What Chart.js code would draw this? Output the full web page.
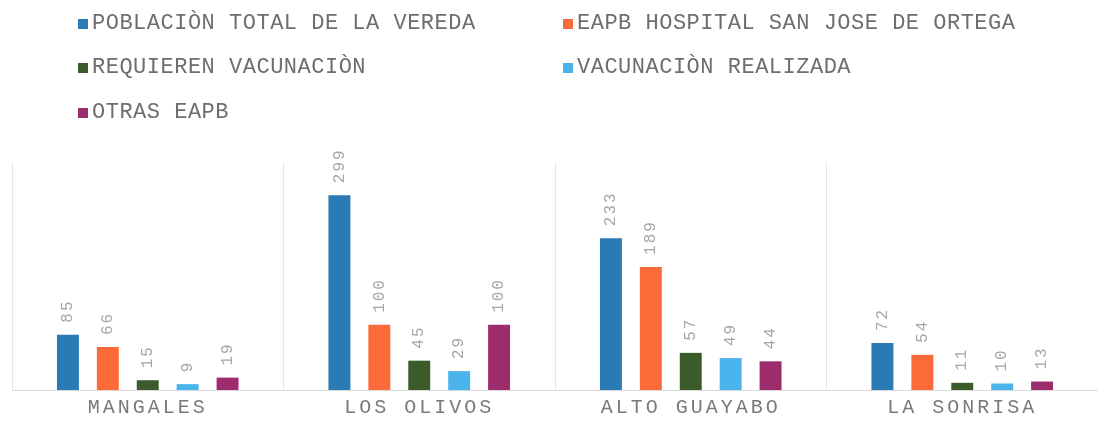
<!DOCTYPE html>
<html>
<head>
<meta charset="utf-8">
<script src="https://cdn.jsdelivr.net/npm/chart.js@4.4.1/dist/chart.umd.min.js"></script>
<style>
  body { margin: 0; background: #fff; }
  #wrap { position: relative; width: 1098px; height: 425px; }
  #legend { position: absolute; left: 0; top: 0; width: 1098px; height: 150px; }
  .item {
    position: absolute; display: flex; align-items: center;
    font: 22px "Liberation Mono", monospace; letter-spacing: 0.5px; color: #6e6e6e;
    white-space: nowrap;
  }
  .box { width: 10px; height: 10px; margin-right: 4px; }
</style>
</head>
<body>
<div id="wrap">
  <canvas id="myBarChart" width="1098" height="425"></canvas>
  <div id="legend"></div>
</div>
<script>
// data
const veredas = ['MANGALES', 'LOS OLIVOS', 'ALTO GUAYABO', 'LA SONRISA'];
const seriesNames = [
    'POBLACIÒN TOTAL DE LA VEREDA',
    'EAPB HOSPITAL SAN JOSE DE ORTEGA',
    'REQUIEREN VACUNACIÒN',
    'VACUNACIÒN REALIZADA',
    'OTRAS EAPB'
];
const poblacionTotal = [85, 299, 233, 72];
const eapbHospital = [66, 100, 189, 54];
const requierenVacunacion = [15, 45, 57, 11];
const vacunacionRealizada = [9, 29, 49, 10];
const otrasEapb = [19, 100, 44, 13];
const seriesColors = ['#2a7ab5', '#fd6a3a', '#3b5b2a', '#4cb4ec', '#9e2b6b'];

const allSeries = [poblacionTotal, eapbHospital, requierenVacunacion, vacunacionRealizada, otrasEapb];

// vertical value labels above each bar
const valueLabels = {
    id: 'valueLabels',
    beforeDraw(chart) {
        chart.ctx.letterSpacing = '3px';
    },
    afterDatasetsDraw(chart) {
        const ctx = chart.ctx;
        ctx.save();
        ctx.font = '16px "Liberation Mono"';
        ctx.letterSpacing = '2px';
        ctx.fillStyle = '#a6a6a6';
        ctx.textAlign = 'left';
        ctx.textBaseline = 'middle';
        chart.data.datasets.forEach((ds, i) => {
            chart.getDatasetMeta(i).data.forEach((bar, j) => {
                ctx.save();
                ctx.translate(bar.x, bar.y - 12);
                ctx.rotate(-Math.PI / 2);
                ctx.fillText(String(ds.data[j]), 0, 0);
                ctx.restore();
            });
        });
        ctx.restore();
    }
};

document.addEventListener("DOMContentLoaded", function () {
    const ctx = document.getElementById('myBarChart').getContext('2d');
    const chart = new Chart(ctx, {
        type: 'bar',
        data: {
            labels: veredas,
            datasets: allSeries.map((vals, i) => ({
                label: seriesNames[i],
                data: vals,
                backgroundColor: seriesColors[i],
                categoryPercentage: 0.735,
                barPercentage: 0.55
            }))
        },
        options: {
            responsive: false,
            animation: false,
            layout: { padding: { top: 162, left: 12, right: 0, bottom: 0 } },
            plugins: {
                legend: { display: false },
                tooltip: { enabled: false }
            },
            scales: {
                x: {
                    grid: { offset: true, color: '#e6e6e6', drawTicks: false },
                    border: { color: '#dcdcdc' },
                    ticks: {
                        padding: 10,
                        color: '#7a7a7a',
                        font: { family: '"Liberation Mono"', size: 20, lineHeight: 0.75 }
                    }
                },
                y: {
                    display: false,
                    min: 0,
                    max: 350
                }
            }
        },
        plugins: [valueLabels]
    });

    // two-column legend
    const legend = document.getElementById('legend');
    const cols = [78, 563];
    const rows = [24, 68, 113];
    seriesNames.forEach((name, i) => {
        const el = document.createElement('div');
        el.className = 'item';
        el.style.left = cols[i % 2] + 'px';
        el.style.top = (rows[Math.floor(i / 2)] - 13) + 'px';
        const box = document.createElement('span');
        box.className = 'box';
        box.style.background = chart.data.datasets[i].backgroundColor;
        el.appendChild(box);
        el.appendChild(document.createTextNode(name));
        legend.appendChild(el);
    });
});
</script>
</body>
</html>
